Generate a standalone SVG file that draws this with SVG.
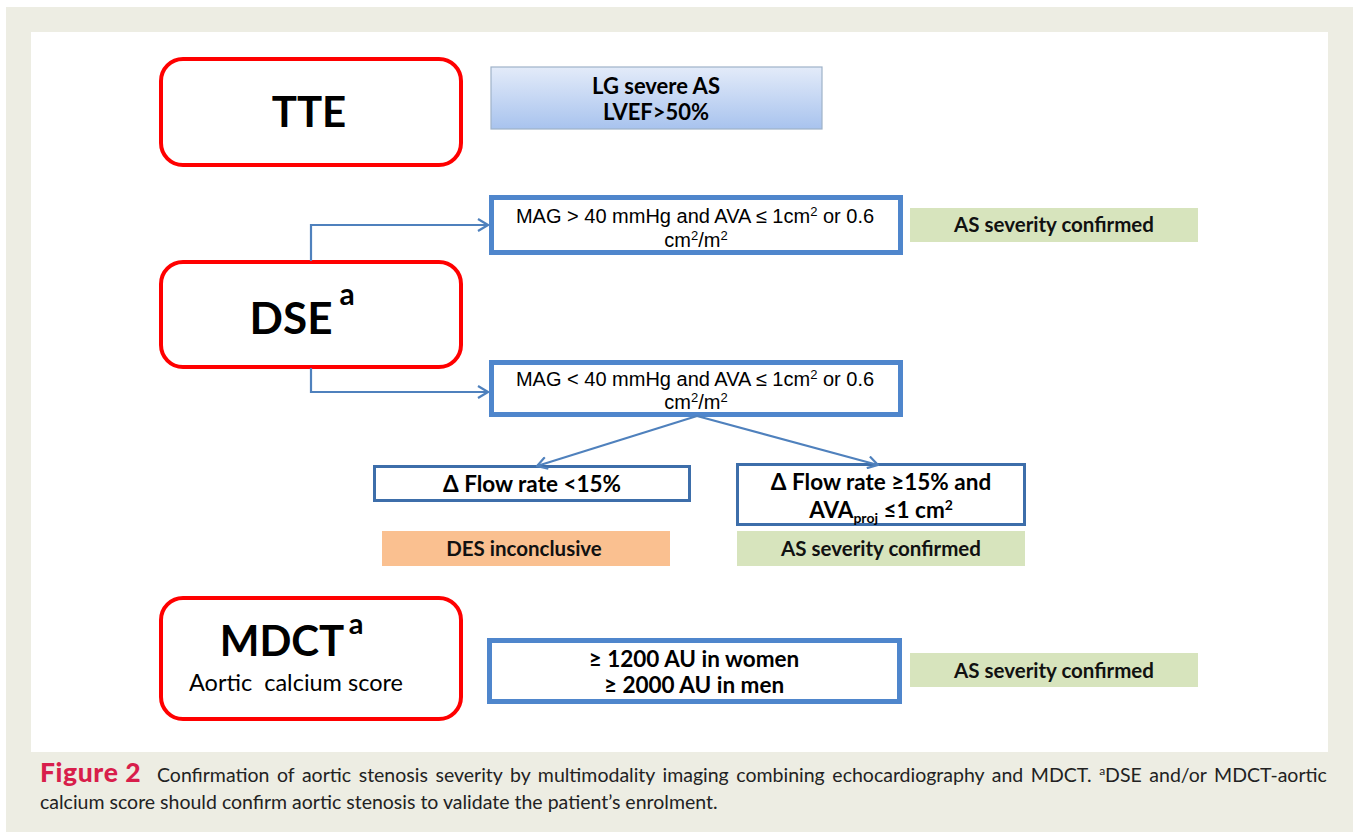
<svg xmlns="http://www.w3.org/2000/svg" width="1353" height="832" viewBox="0 0 1353 832">
<defs>
<linearGradient id="lg" x1="0" y1="0" x2="0" y2="1">
<stop offset="0" stop-color="#e3ebf9"/>
<stop offset="1" stop-color="#a8c3ee"/>
</linearGradient>
<marker id="chev" viewBox="0 0 12 14" refX="11" refY="7" markerWidth="12" markerHeight="14" markerUnits="userSpaceOnUse" orient="auto">
<path d="M1,1 L11,7 L1,13" fill="none" stroke="#4f81bd" stroke-width="2.2"/>
</marker>
</defs>
<style>
.red{fill:#fff;stroke:#ff0000;stroke-width:4}
.blue{fill:#fff;stroke:#4f86cc;stroke-width:5}
.blue2{fill:#fff;stroke:#3d6eaa;stroke-width:3}
.green{fill:#d7e4bd}
.orange{fill:#fac090}
.big{font-family:Lato,"Liberation Sans",sans-serif;font-weight:bold;fill:#000}
.cal{font-family:Lato,"Liberation Sans",sans-serif;font-weight:bold;fill:#111;font-size:20.5px}
.ar{font-family:"Liberation Sans",Arial,sans-serif;fill:#000;font-size:20px}
.cap{font-family:Lato,"Open Sans",sans-serif;fill:#222;font-size:19.5px}
.conn{fill:none;stroke:#4f81bd;stroke-width:2.2}
</style>
<rect x="0" y="0" width="1353" height="832" fill="#fff"/>
<rect x="6" y="7" width="1347" height="825" fill="#edede3"/>
<rect x="31" y="32" width="1297" height="720" fill="#fff"/>

<g id="tte">
<rect class="red" x="161" y="59" width="300" height="106" rx="22"/>
<text class="big" x="309" y="127" font-size="42" text-anchor="middle">TTE</text>
</g>
<g id="lg-severe">
<rect x="491" y="67" width="331" height="62" fill="url(#lg)" stroke="#9fb2c8" stroke-width="1.2"/>
<text class="big" x="656" y="94" font-size="22" text-anchor="middle">LG severe AS</text>
<text class="big" x="656" y="120" font-size="22" text-anchor="middle">LVEF&gt;50%</text>
</g>
<g id="mag-high">
<rect class="blue" x="491.5" y="197.5" width="409" height="55"/>
<text class="ar" x="695" y="223" text-anchor="middle">MAG &gt; 40 mmHg and AVA ≤ 1cm<tspan dy="-7" font-size="13">2</tspan><tspan dy="7"> or 0.6</tspan></text>
<text class="ar" x="696" y="247" text-anchor="middle">cm<tspan dy="-7" font-size="13">2</tspan><tspan dy="7">/m</tspan><tspan dy="-7" font-size="13">2</tspan></text>
</g>
<g id="confirmed-1">
<rect class="green" x="910" y="208" width="288" height="34"/>
<text class="cal" x="1054" y="232" text-anchor="middle">AS severity confirmed</text>
</g>
<g id="dse">
<rect class="red" x="161" y="262" width="300" height="105" rx="22"/>
<text class="big" x="291" y="334" font-size="44" text-anchor="middle">DSE</text>
<text class="big" x="347" y="305" font-size="30" text-anchor="middle">a</text>
</g>
<g id="mag-low">
<rect class="blue" x="491.5" y="362.5" width="409" height="52"/>
<text class="ar" x="695" y="386" text-anchor="middle">MAG &lt; 40 mmHg and AVA ≤ 1cm<tspan dy="-7" font-size="13">2</tspan><tspan dy="7"> or 0.6</tspan></text>
<text class="ar" x="696" y="409" text-anchor="middle">cm<tspan dy="-7" font-size="13">2</tspan><tspan dy="7">/m</tspan><tspan dy="-7" font-size="13">2</tspan></text>
</g>
<g id="flow-low">
<rect class="blue2" x="374.5" y="466.5" width="315" height="34"/>
<text class="big" x="532" y="492" font-size="22.5" text-anchor="middle">Δ Flow rate &lt;15%</text>
</g>
<g id="flow-high">
<rect class="blue2" x="737.5" y="464.5" width="287" height="60"/>
<text class="big" x="881" y="490" font-size="22.5" text-anchor="middle">Δ Flow rate ≥15% and</text>
<text class="big" x="881" y="518" font-size="22.5" text-anchor="middle">AVA<tspan dy="5" font-size="14">proj</tspan><tspan dy="-5"> ≤1 cm</tspan><tspan dy="-8" font-size="14">2</tspan></text>
</g>
<g id="des-inconclusive">
<rect class="orange" x="382" y="531" width="288" height="35"/>
<text class="cal" x="524" y="556" text-anchor="middle">DES inconclusive</text>
</g>
<g id="confirmed-2">
<rect class="green" x="737" y="531" width="288" height="35"/>
<text class="cal" x="881" y="556" text-anchor="middle">AS severity confirmed</text>
</g>
<g id="mdct">
<rect class="red" x="161" y="598" width="300" height="121" rx="22"/>
<text class="big" x="282" y="656" font-size="42" text-anchor="middle">MDCT</text>
<text class="big" x="356" y="634" font-size="29" text-anchor="middle">a</text>
<text x="296" y="691" font-family="Lato,'Liberation Sans',sans-serif" font-size="23.5" fill="#000" text-anchor="middle" xml:space="preserve">Aortic  calcium score</text>
</g>
<g id="calcium">
<rect class="blue" x="489.5" y="640.5" width="410" height="61"/>
<text class="big" x="694" y="667" font-size="22.5" text-anchor="middle">≥ 1200 AU in women</text>
<text class="big" x="694" y="693" font-size="22.5" text-anchor="middle">≥ 2000 AU in men</text>
</g>
<g id="confirmed-3">
<rect class="green" x="910" y="653" width="288" height="34"/>
<text class="cal" x="1054" y="678" text-anchor="middle">AS severity confirmed</text>
</g>

<g id="connectors">
<path class="conn" d="M311,261 V225 H488" marker-end="url(#chev)"/>
<path class="conn" d="M311,368 V392 H488" marker-end="url(#chev)"/>
<path class="conn" d="M697,416 L537,466" marker-end="url(#chev)"/>
<path class="conn" d="M697,416 L878,465" marker-end="url(#chev)"/>
</g>

<g id="caption">
<text x="40" y="782" font-family="Lato,'Open Sans',sans-serif" font-weight="900" fill="#d81e4b" font-size="26.5" letter-spacing="0.6">Figure 2</text>
<text class="cap" x="157" y="782" word-spacing="2.6">Confirmation of aortic stenosis severity by multimodality imaging combining echocardiography and MDCT. <tspan dy="-7" font-size="12">a</tspan><tspan dy="7">DSE and/or MDCT-aortic</tspan></text>
<text class="cap" x="40" y="809">calcium score should confirm aortic stenosis to validate the patient’s enrolment.</text>
</g>
</svg>
